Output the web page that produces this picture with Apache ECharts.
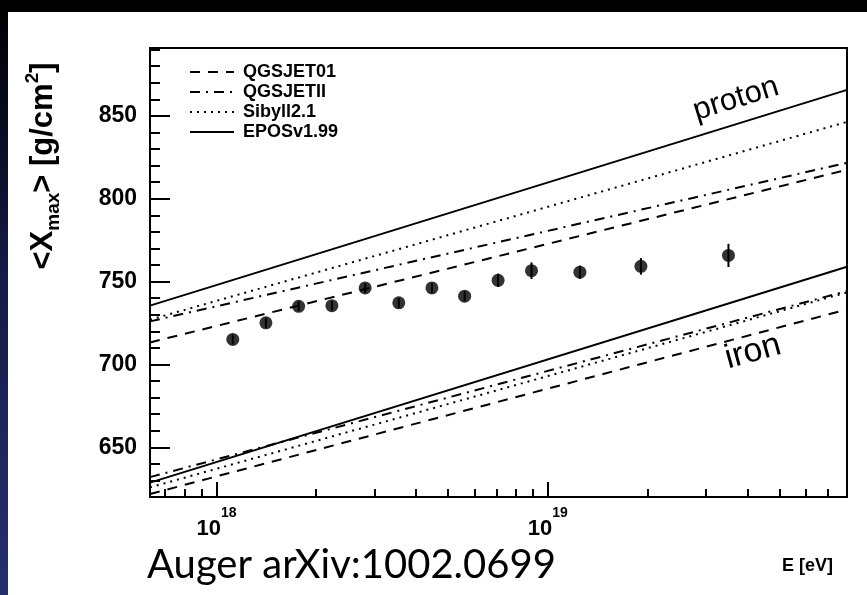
<!DOCTYPE html>
<html><head><meta charset="utf-8">
<script src="https://cdn.jsdelivr.net/npm/echarts@6/dist/echarts.min.js"></script>
<style>html,body{margin:0;padding:0;background:#fff}#c{width:867px;height:595px}</style>
</head><body><div id="c"></div>
<script>
// ---- data ----
const energies = [1.12e18,1.41e18,1.77e18,2.23e18,2.81e18,3.55e18,4.47e18,5.61e18,7.08e18,8.93e18,1.25e19,1.91e19,3.51e19];
const xmaxMean = [715.1,725.1,735.1,735.5,746.2,737.2,746.2,741.2,750.8,756.6,755.7,759.2,765.8];
const xmaxErr  = [3,3,3,3,3,3,3,3,4,5,4,5,7];
const modelE = [6.3e17, 8.0e19];
const protonQGSJET01 = [713.3, 817.5];
const protonQGSJETII = [726.0, 821.7];
const protonSibyll   = [727.0, 846.4];
const protonEPOS     = [735.5, 865.7];
const ironQGSJET01   = [621.8, 733.2];
const ironQGSJETII   = [632.0, 744.3];
const ironSibyll     = [625.8, 743.5];
const ironEPOS       = [628.7, 759.0];
const modelNames = ['QGSJET01','QGSJETII','Sibyll2.1','EPOSv1.99'];
const xMajorTicks = [1e18, 1e19];
const xMinorTicks = [7e17,8e17,9e17,2e18,3e18,4e18,5e18,6e18,7e18,8e18,9e18,2e19,3e19,4e19,5e19,6e19,7e19];
const yMajorTicks = [650,700,750,800,850];
const yMinorTicks = [630,640,660,670,680,690,710,720,730,740,760,770,780,790,810,820,830,840,860,870,880,890];

// ---- chart ----
const FONT = 'Liberation Sans, Arial, sans-serif';
const styles = {
  'QGSJET01': [10, 8],
  'QGSJETII': [10, 6, 2, 6],
  'Sibyll2.1': [2, 5],
  'EPOSv1.99': 'solid'
};
const modelSets = [
  ['QGSJET01', protonQGSJET01, ironQGSJET01],
  ['QGSJETII', protonQGSJETII, ironQGSJETII],
  ['Sibyll2.1', protonSibyll, ironSibyll],
  ['EPOSv1.99', protonEPOS, ironEPOS]
];
const series = [];
modelSets.forEach(([name, p, fe]) => {
  [p, fe].forEach(arr => {
    series.push({
      type: 'line', name: name, xAxisIndex: 0, yAxisIndex: 0,
      data: modelE.map((e, i) => [e, arr[i]]),
      symbol: 'none', showSymbol: false, silent: true,
      lineStyle: { color: '#000', width: 2, type: styles[name] },
      itemStyle: { color: '#000' }
    });
  });
});
series.push({
  type: 'custom', xAxisIndex: 0, yAxisIndex: 0, silent: true,
  data: energies.map((e, i) => [e, xmaxMean[i] - xmaxErr[i], xmaxMean[i] + xmaxErr[i]]),
  renderItem: (params, api) => {
    const a = api.coord([api.value(0), api.value(1)]);
    const b = api.coord([api.value(0), api.value(2)]);
    return { type: 'line', shape: { x1: a[0], y1: a[1], x2: b[0], y2: b[1] }, style: { stroke: '#000', lineWidth: 2 } };
  },
  z: 5
});
series.push({
  type: 'scatter', name: 'data', xAxisIndex: 0, yAxisIndex: 0,
  data: energies.map((e, i) => [e, xmaxMean[i]]),
  symbol: 'circle', symbolSize: 13, itemStyle: { color: '#000' }, z: 6, silent: true
});

const chart = echarts.init(document.getElementById('c'), null, { renderer: 'canvas' });
chart.setOption({
  animation: false,
  backgroundColor: '#fff',
  grid: { left: 150, right: 20, top: 48, bottom: 98, show: true, borderColor: '#000', borderWidth: 2, backgroundColor: 'transparent' },
  legend: {
    data: modelNames, orient: 'vertical', left: 184, top: 57, itemWidth: 44, itemHeight: 14, itemGap: 0,
    selectedMode: false,
    itemStyle: { opacity: 0 },
    textStyle: { fontFamily: FONT, fontWeight: 'bold', fontSize: 18, color: '#000', lineHeight: 20, padding: [0, 0, 0, 4] }
  },
  xAxis: [{
    type: 'log', logBase: 10, min: 6.3e17, max: 8.0e19, position: 'bottom',
    axisLine: { show: true, lineStyle: { color: '#000', width: 2 } },
    axisTick: { show: true, inside: true, length: 15, customValues: xMajorTicks, lineStyle: { color: '#000', width: 2 } },
    axisLabel: {
      show: true, customValues: xMajorTicks, margin: 9, color: '#000',
      formatter: v => '{b|10}{s|' + Math.round(Math.log10(v)) + '}',
      rich: {
        b: { fontFamily: FONT, fontWeight: 'bold', fontSize: 22, lineHeight: 34, verticalAlign: 'bottom', color: '#000' },
        s: { fontFamily: FONT, fontWeight: 'bold', fontSize: 14, verticalAlign: 'top', color: '#000' }
      }
    },
    splitLine: { show: false }, minorTick: { show: false }
  }, {
    type: 'log', logBase: 10, min: 6.3e17, max: 8.0e19, position: 'bottom',
    axisLine: { show: false },
    axisTick: { show: true, inside: true, length: 8, customValues: xMinorTicks, lineStyle: { color: '#000', width: 2 } },
    axisLabel: { show: false }, splitLine: { show: false }
  }],
  yAxis: [{
    type: 'value', min: 620, max: 891, position: 'left',
    axisLine: { show: true, lineStyle: { color: '#000', width: 2 } },
    axisTick: { show: true, inside: true, length: 20, customValues: yMajorTicks, lineStyle: { color: '#000', width: 2 } },
    axisLabel: { show: true, customValues: yMajorTicks, margin: 13, color: '#000', fontFamily: FONT, fontWeight: 'bold', fontSize: 23 },
    splitLine: { show: false }
  }, {
    type: 'value', min: 620, max: 891, position: 'left',
    axisLine: { show: false },
    axisTick: { show: true, inside: true, length: 10, customValues: yMinorTicks, lineStyle: { color: '#000', width: 2 } },
    axisLabel: { show: false }, splitLine: { show: false }
  }],
  graphic: [
    { type: 'rect', left: 0, top: 0, shape: { width: 867, height: 12 }, style: { fill: '#000' }, silent: true },
    { type: 'rect', left: 0, top: 0, shape: { width: 8, height: 595 }, silent: true,
      style: { fill: new echarts.graphic.LinearGradient(0, 0, 0, 1, [{ offset: 0, color: '#000' }, { offset: 0.45, color: '#141a44' }, { offset: 1, color: '#26306e' }]) } },
    { type: 'text', x: 43, y: 166, rotation: Math.PI / 2, silent: true,
      style: {
        text: '<X{sub|max}> [g/cm{sup|2}]', align: 'center', verticalAlign: 'middle',
        fontFamily: FONT, fontWeight: 'bold', fontSize: 31, fill: '#000',
        rich: {
          sub: { fontFamily: FONT, fontWeight: 'bold', fontSize: 19, verticalAlign: 'bottom', fill: '#000' },
          sup: { fontFamily: FONT, fontWeight: 'bold', fontSize: 19, verticalAlign: 'top', fill: '#000' }
        },
        lineHeight: 40
      } },
    { type: 'text', x: 833, y: 566, silent: true,
      style: { text: 'E [eV]', align: 'right', verticalAlign: 'middle', fontFamily: FONT, fontWeight: 'bold', fontSize: 18, fill: '#000' } },
    { type: 'text', x: 147, y: 565, silent: true,
      style: { text: 'Auger arXiv:1002.0699', align: 'left', verticalAlign: 'middle', fontFamily: 'Lato, Open Sans, sans-serif', fontSize: 40, fill: '#000' } },
    { type: 'text', x: 736, y: 99, rotation: 0.30, silent: true,
      style: { text: 'proton', align: 'center', verticalAlign: 'middle', fontFamily: FONT, fontSize: 31, fill: '#000' } },
    { type: 'text', x: 753, y: 352, rotation: 0.27, silent: true,
      style: { text: 'iron', align: 'center', verticalAlign: 'middle', fontFamily: FONT, fontSize: 34, fill: '#000' } }
  ],
  series: series
});
</script></body></html>
